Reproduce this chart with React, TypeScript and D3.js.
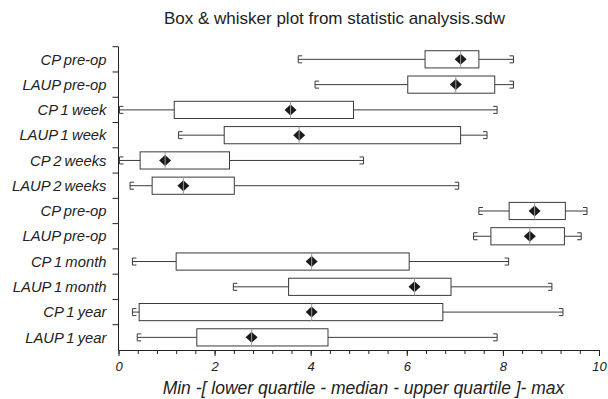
import React, { useRef, useEffect } from "react";
import { select, scaleLinear, scaleBand, axisBottom, range } from "d3";

// rows, top to bottom
const categories = [
  "CP pre-op",
  "LAUP pre-op",
  "CP 1 week",
  "LAUP 1 week",
  "CP 2 weeks",
  "LAUP 2 weeks",
  "CP pre-op",
  "LAUP pre-op",
  "CP 1 month",
  "LAUP 1 month",
  "CP 1 year",
  "LAUP 1 year",
];
const mins = [3.74, 4.09, 0.02, 1.25, 0.02, 0.24, 7.5, 7.39, 0.29, 2.39, 0.29, 0.39];
const lowerQuartiles = [6.38, 6.02, 1.16, 2.2, 0.45, 0.7, 8.13, 7.75, 1.2, 3.54, 0.43, 1.63];
const medians = [7.12, 7.02, 3.58, 3.76, 0.97, 1.35, 8.66, 8.56, 4.02, 6.16, 4.02, 2.77];
const upperQuartiles = [7.5, 7.83, 4.89, 7.12, 2.31, 2.41, 9.3, 9.28, 6.05, 6.92, 6.75, 4.36];
const maxs = [8.22, 8.22, 7.88, 7.67, 5.1, 7.08, 9.75, 9.63, 8.12, 9.02, 9.25, 7.88];
const xTicks = [0, 2, 4, 6, 8, 10];

const title = "Box & whisker plot from statistic analysis.sdw";
const xTitle = "Min -[ lower quartile - median - upper quartile ]- max";

const WIDTH = 608;
const HEIGHT = 399;
const FONT = "'Liberation Sans', Arial, Helvetica, sans-serif";

const App: React.FC = () => {
  const svgRef = useRef<SVGSVGElement>(null);

  useEffect(() => {
    const svg = select(svgRef.current);
    svg.selectAll("*").remove();

    const left = 118.5;
    const right = 599;
    const top = 46.7;
    const bottom = 350;

    const x = scaleLinear().domain([0, 10]).range([left, right]);
    const y = scaleBand<number>()
      .domain(range(categories.length))
      .range([top, bottom])
      .paddingInner(0)
      .paddingOuter(0);
    const bw = y.bandwidth();
    const boxH = bw * 0.68;
    const capH = 7;
    const capW = 4;
    const stroke = "#3a3a3a";

    // title
    svg
      .append("text")
      .attr("x", 334.5)
      .attr("y", 24)
      .attr("text-anchor", "middle")
      .attr("font-family", FONT)
      .attr("font-size", 17)
      .attr("fill", "#222")
      .text(title);

    // x axis (minor + major)
    const minorG = svg
      .append("g")
      .attr("transform", `translate(0,${bottom})`)
      .call(
        axisBottom(x)
          .tickValues(range(0, 10.001, 0.4))
          .tickSize(4)
          .tickSizeOuter(0)
          .tickFormat(() => "")
      );
    minorG.select(".domain").remove();
    const xAxisG = svg
      .append("g")
      .attr("transform", `translate(0,${bottom})`)
      .call(axisBottom(x).tickValues(xTicks).tickSize(6).tickSizeOuter(0).tickPadding(6));
    [minorG, xAxisG].forEach((g) => {
      g.selectAll("path, line").attr("stroke", "#222").attr("stroke-width", 1);
    });
    xAxisG
      .selectAll("text")
      .attr("font-family", FONT)
      .attr("font-style", "italic")
      .attr("font-size", 13)
      .attr("fill", "#222");

    svg
      .append("text")
      .attr("x", 363.5)
      .attr("y", 394)
      .attr("text-anchor", "middle")
      .attr("font-family", FONT)
      .attr("font-style", "italic")
      .attr("font-size", 17.5)
      .attr("fill", "#222")
      .text(xTitle);

    // y axis, ticks sit on the row borders
    const yAxisG = svg.append("g");
    yAxisG
      .append("line")
      .attr("x1", left)
      .attr("x2", left)
      .attr("y1", top)
      .attr("y2", bottom)
      .attr("stroke", "#222");
    yAxisG
      .selectAll("line.tick")
      .data(range(categories.length))
      .join("line")
      .attr("class", "tick")
      .attr("x1", left - 6)
      .attr("x2", left)
      .attr("y1", (i) => y(i)!)
      .attr("y2", (i) => y(i)!)
      .attr("stroke", "#222");
    yAxisG
      .selectAll("text")
      .data(categories)
      .join("text")
      .attr("x", 106.5)
      .attr("y", (_, i) => y(i)! + bw / 2)
      .attr("dy", "0.35em")
      .attr("text-anchor", "end")
      .attr("font-family", FONT)
      .attr("font-style", "italic")
      .attr("font-size", 14.8)
      .attr("word-spacing", -1)
      .attr("fill", "#222")
      .text((d) => d);

    // boxes
    const rows = svg
      .append("g")
      .selectAll("g")
      .data(range(categories.length))
      .join("g")
      .attr("transform", (i) => `translate(0,${y(i)! + bw / 2})`);

    // whiskers
    rows
      .append("line")
      .attr("x1", (i) => x(mins[i]))
      .attr("x2", (i) => x(lowerQuartiles[i]))
      .attr("stroke", stroke);
    rows
      .append("line")
      .attr("x1", (i) => x(upperQuartiles[i]))
      .attr("x2", (i) => x(maxs[i]))
      .attr("stroke", stroke);

    // caps as small brackets
    rows
      .append("path")
      .attr("fill", "none")
      .attr("stroke", stroke)
      .attr("d", (i) => {
        const v = x(mins[i]);
        return `M${v + capW},${-capH / 2}H${v}V${capH / 2}H${v + capW}`;
      });
    rows
      .append("path")
      .attr("fill", "none")
      .attr("stroke", stroke)
      .attr("d", (i) => {
        const v = x(maxs[i]);
        return `M${v - capW},${-capH / 2}H${v}V${capH / 2}H${v - capW}`;
      });

    rows
      .append("rect")
      .attr("x", (i) => x(lowerQuartiles[i]))
      .attr("y", -boxH / 2)
      .attr("width", (i) => x(upperQuartiles[i]) - x(lowerQuartiles[i]))
      .attr("height", boxH)
      .attr("fill", "#fff")
      .attr("stroke", stroke);

    // diamond marker + median line
    rows
      .append("path")
      .attr("fill", "#1a1a1a")
      .attr("d", (i) => {
        const m = x(medians[i]);
        return `M${m - 6},0L${m},-5.5L${m + 6},0L${m},5.5Z`;
      });
    rows
      .append("line")
      .attr("x1", (i) => x(medians[i]))
      .attr("x2", (i) => x(medians[i]))
      .attr("y1", -boxH / 2)
      .attr("y2", boxH / 2)
      .attr("stroke", "#9a9a9a");
  }, []);

  return (
    <svg
      ref={svgRef}
      width={WIDTH}
      height={HEIGHT}
      viewBox={`0 0 ${WIDTH} ${HEIGHT}`}
      style={{ position: "absolute", left: 0, top: 0, background: "#fff" }}
    />
  );
};

export default App;
